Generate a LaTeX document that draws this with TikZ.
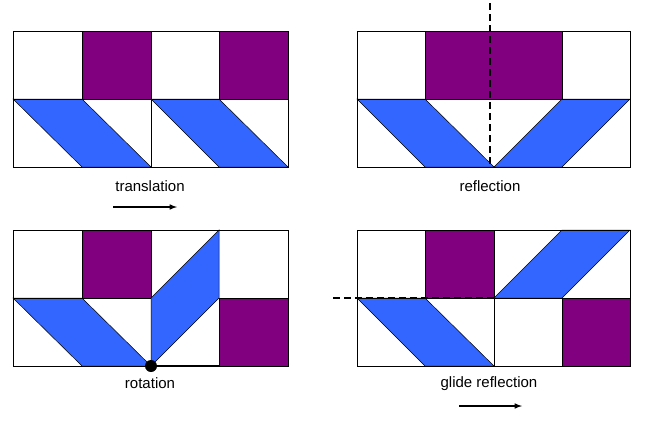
\documentclass[tikz,border=0pt]{standalone}
\usepackage{fontspec}
\setmainfont{Liberation Sans}
\begin{document}
\begin{tikzpicture}[x=1pt,y=-1pt,
  pur/.style={fill={rgb,255:red,128;green,0;blue,128},draw=black,line width=0.6pt},
  blu/.style={fill={rgb,255:red,51;green,102;blue,255},draw=black,line width=0.5pt},
  grid/.style={draw=black,line width=0.8pt},
  lbl/.style={font=\fontsize{15}{18}\selectfont,inner sep=0pt},
  arr/.style={-latex,line width=1.5pt},
  dsh/.style={dashed,dash pattern=on 7pt off 4pt,line width=1.5pt}]
\useasboundingbox (0,0) rectangle (648,424);
% top-left
\fill[pur] (82,31) rectangle (151,99);
\fill[pur] (219,31) rectangle (288,99);
\filldraw[blu] (13,99) -- (82,99) -- (151,167) -- (82,167) -- cycle;
\filldraw[blu] (151,99) -- (219,99) -- (288,167) -- (219,167) -- cycle;
\draw[grid] (13,31) rectangle (288,167);
\draw[grid] (13,99) -- (288,99) (82,31) -- (82,99) (151,31) -- (151,167) (219,31) -- (219,99);
\node[lbl] (t1) at (150,186) {translation};
\coordinate (a1) at (113,207); \coordinate (b1) at (177,207);
\draw[arr] (a1) -- (b1);
% top-right
\fill[pur] (425,31) rectangle (562,99);
\filldraw[blu] (357,99) -- (425,99) -- (494,167) -- (425,167) -- cycle;
\filldraw[blu] (630,99) -- (562,99) -- (494,167) -- (562,167) -- cycle;
\draw[grid] (357,31) rectangle (630,167);
\draw[grid] (357,99) -- (630,99) (425,31) -- (425,99) (562,31) -- (562,99);
\coordinate (r1) at (490,3); \coordinate (r2) at (490,167);
\draw[dsh] (r1) -- (r2);
\node[lbl] (t2) at (490,186) {reflection};
% bottom-left
\fill[pur] (82,230) rectangle (151,298);
\fill[pur] (219,298) rectangle (288,366);
\filldraw[blu] (13,298) -- (82,298) -- (151,366) -- (82,366) -- cycle;
\filldraw[blu] (151,366) -- (151,298) -- (219,230) -- (219,298) -- cycle;
\draw[grid] (13,230) rectangle (288,366);
\draw[grid] (13,298) -- (151,298) (219,298) -- (288,298) (82,230) -- (82,298) (151,230) -- (151,298) (219,298) -- (219,366);
\coordinate (p1) at (151,366); \coordinate (p2) at (219,366);
\draw[line width=1.5pt] (p1) -- (p2);
\node[circle,fill=black,minimum size=12pt,inner sep=0pt] (dot) at (p1) {};
\node[lbl] (t3) at (150,383) {rotation};
% bottom-right
\fill[pur] (425,230) rectangle (494,298);
\fill[pur] (562,298) rectangle (630,366);
\filldraw[blu] (357,298) -- (425,298) -- (494,366) -- (425,366) -- cycle;
\filldraw[blu] (494,298) -- (562,298) -- (630,230) -- (562,230) -- cycle;
\draw[grid] (357,230) rectangle (630,366);
\draw[grid] (357,298) -- (630,298) (425,230) -- (425,298) (494,230) -- (494,366) (562,298) -- (562,366);
\coordinate (g1) at (333,298); \coordinate (g2) at (494,298);
\draw[dsh] (g1) -- (g2);
\node[lbl] (t4) at (489,384) {glide reflection};
\coordinate (a2) at (459,406); \coordinate (b2) at (522,406);
\draw[arr] (a2) -- (b2);
\end{tikzpicture}
\end{document}
